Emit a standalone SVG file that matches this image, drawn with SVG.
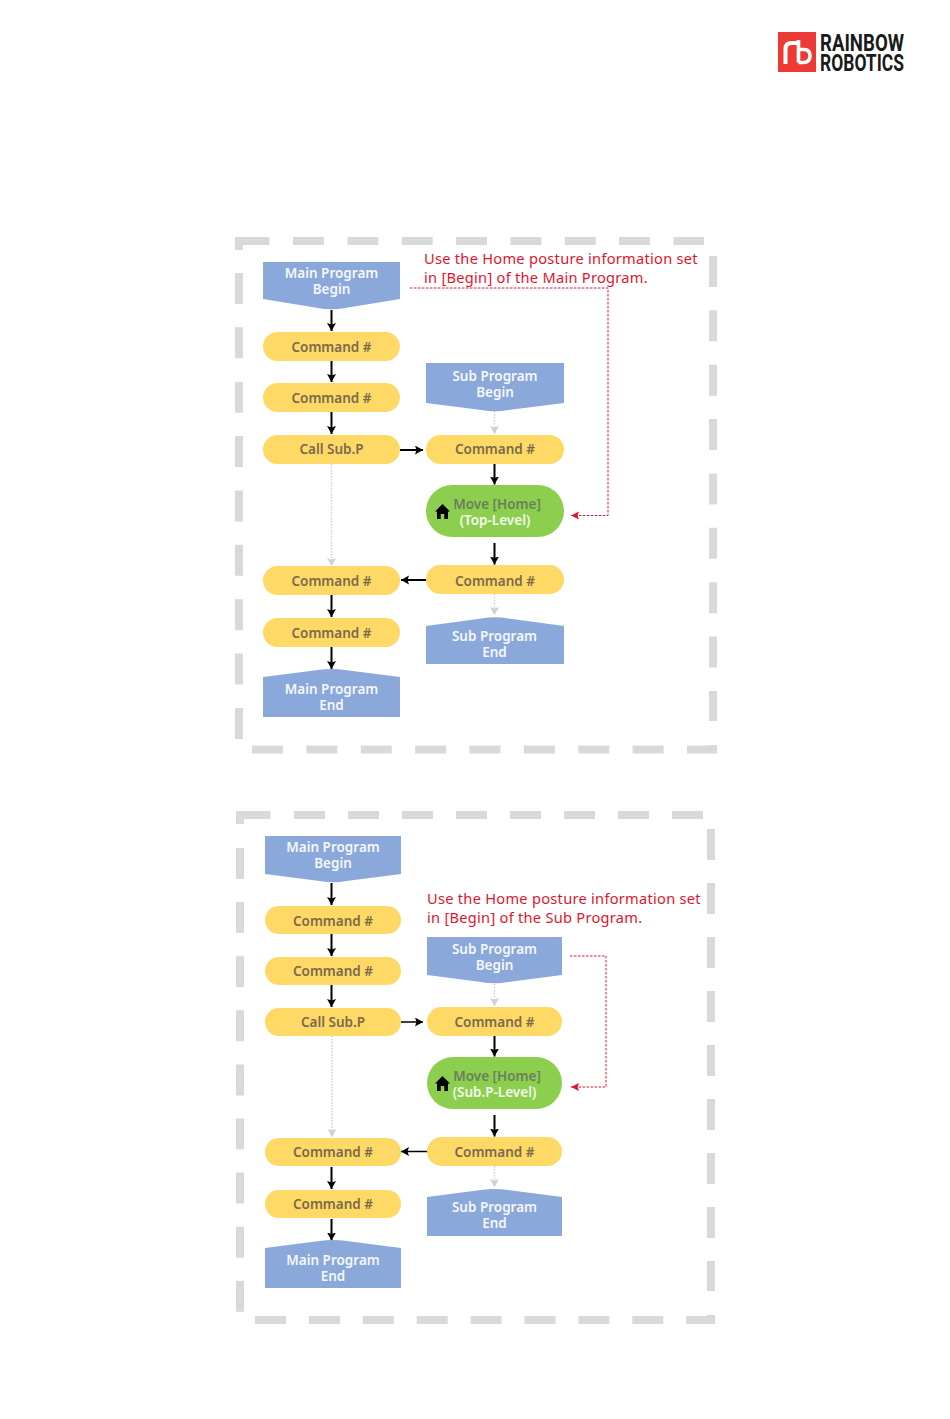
<svg xmlns="http://www.w3.org/2000/svg" width="950" height="1419" viewBox="0 0 950 1419">
<style>
text{font-family:"Noto Sans","Liberation Sans",sans-serif;font-size:13.5px;font-weight:600;text-anchor:middle}
.w{fill:#f4f7fc}
.c{fill:#7a6a4c}
.m{fill:#697f5c}
.v{fill:#f2f9ea}
.r{fill:#e2142d;font-weight:400;font-size:14.6px;text-anchor:start;letter-spacing:.28px}
.blue{fill:#8ba8da}
.yel{fill:#ffd966}
.grn{fill:#8ccf4f}
.fr{fill:none;stroke:#d9d9d9;stroke-width:8}
.d{stroke-dasharray:31 23.35}
.k{fill:none;stroke:#000;stroke-width:2;marker-end:url(#ak)}
.g{fill:none;stroke:#cfcfcf;stroke-width:1.5;stroke-dasharray:1.5 1.5;marker-end:url(#ag)}
.e{fill:none;stroke:#e2142d;stroke-width:1;stroke-dasharray:2.5 1.5}
.ea{marker-end:url(#ar)}
.l1{font-family:"Roboto","Liberation Sans",sans-serif;font-weight:700;font-size:24px;fill:#1a1a1a;text-anchor:start}
</style>
<defs>
<marker id="ak" markerUnits="userSpaceOnUse" markerWidth="10" markerHeight="10" refX="8" refY="4.5" orient="auto"><path d="M0 0L8 4.5L0 9L1.5 4.5Z" fill="#000"/></marker>
<marker id="ag" markerUnits="userSpaceOnUse" markerWidth="10" markerHeight="10" refX="8" refY="4.5" orient="auto"><path d="M0 0L8 4.5L0 9L1.5 4.5Z" fill="#cfcfcf"/></marker>
<marker id="ar" markerUnits="userSpaceOnUse" markerWidth="10" markerHeight="10" refX="8" refY="4" orient="auto"><path d="M0 0L8 4L0 8L1.5 4Z" fill="#e2142d"/></marker>
<path id="home" d="M7.500 0L15 7.500L13 7.500V15H9.300V10H5.700V15H2V7.500H0Z" fill="#000"/>
</defs>

<g id="logo">
<rect x="778" y="32" width="38" height="40" fill="#ee3a36"/>
<path d="M785.500 64V49Q785.500 43 791.500 43H798" fill="none" stroke="#fff" stroke-width="4"/>
<path d="M798.500 40V62.500M798.500 49.500H804Q810 49.500 810 55.800T804 62.500H798.500" fill="none" stroke="#fff" stroke-width="3.600"/>
<text class="l1"><tspan x="820" y="51" textLength="84" lengthAdjust="spacingAndGlyphs">RAINBOW</tspan><tspan x="820" y="71" textLength="84" lengthAdjust="spacingAndGlyphs">ROBOTICS</tspan></text>
</g>

<g id="frame-top">
<path class="fr" d="M239 250V241H269.500"/>
<path class="fr d" d="M293 241H704"/>
<path class="fr" style="stroke-dasharray:31 23.37" d="M239 273V739"/>
<path class="fr" style="stroke-dasharray:31 23.37" d="M252 749.500H687"/>
<path class="fr" d="M687 749.500H713V745"/>
<path class="fr" style="stroke-dasharray:31 23.37" d="M713 256V721"/>
</g>
<g id="frame-bottom">
<path class="fr" d="M240 824V815H270.500"/>
<path class="fr" style="stroke-dasharray:31 23" d="M294 815H703"/>
<path class="fr" style="stroke-dasharray:31 23.1" d="M240 848V1312"/>
<path class="fr" style="stroke-dasharray:31 22.9" d="M255 1320H686"/>
<path class="fr" d="M686 1320H711V1315"/>
<path class="fr" style="stroke-dasharray:31 23" d="M711 829V1291"/>
</g>

<g id="connectors">
<path class="k" d="M331.500 310V331"/><path class="k" d="M331.500 361V382"/><path class="k" d="M331.500 412V434"/>
<path class="k" d="M400 450H423"/><path class="g" d="M494.500 411V434"/><path class="k" d="M494.500 464V484.500"/>
<path class="k" d="M494.500 543V564.500"/><path class="k" d="M429 580H401"/><path class="g" d="M494.500 594V615"/>
<path class="g" d="M331.500 464V566"/><path class="k" d="M331.500 595V617"/><path class="k" d="M331.500 647V669"/>
<path class="e ea" d="M410 288H608V515.500H571"/>

<path class="k" d="M331.500 883V905"/><path class="k" d="M331.500 934V956"/><path class="k" d="M331.500 985V1007"/>
<path class="k" style="stroke-width:1.500" d="M401 1022H423"/><path class="g" d="M494.500 984V1006"/><path class="k" d="M494.500 1036V1056.500"/>
<path class="k" d="M494.500 1115V1136.500"/><path class="k" style="stroke-width:1.500" d="M428 1151.500H401"/><path class="g" d="M494.500 1166V1187"/>
<path class="g" d="M332 1036V1137"/><path class="k" d="M331.500 1167V1189"/><path class="k" d="M331.500 1219V1240.500"/>
<path class="e ea" d="M570 956H606V1087H571"/>
</g>

<g id="note-1"><text class="r" x="424" y="264">Use the Home posture information set</text><text class="r" x="424" y="283">in [Begin] of the Main Program.</text></g>
<g id="note-2"><text class="r" x="427" y="904">Use the Home posture information set</text><text class="r" x="427" y="923">in [Begin] of the Sub Program.</text></g>

<g id="main-begin-1"><path class="blue" d="M263 262H400V299L345 308Q331.500 310.500 318 308L263 299Z"/><text class="w" x="331.500" y="278">Main Program</text><text class="w" x="331.500" y="294">Begin</text></g>
<g id="cmd-1a"><rect class="yel" x="263" y="332" width="137" height="29" rx="14.500"/><text class="c" x="331.500" y="352">Command #</text></g>
<g id="cmd-1b"><rect class="yel" x="263" y="383" width="137" height="29" rx="14.500"/><text class="c" x="331.500" y="403">Command #</text></g>
<g id="call-1"><rect class="yel" x="263" y="435" width="137" height="29" rx="14.500"/><text class="c" x="331.500" y="454">Call Sub.P</text></g>
<g id="sub-begin-1"><path class="blue" d="M426 363H564V403L508.500 410Q495 412.500 481.500 410L426 403Z"/><text class="w" x="495" y="381">Sub Program</text><text class="w" x="495" y="397">Begin</text></g>
<g id="cmd-1c"><rect class="yel" x="426" y="435" width="138" height="29" rx="14.500"/><text class="c" x="495" y="454">Command #</text></g>
<g id="move-1"><rect class="grn" x="426" y="485" width="138" height="52" rx="26"/><use href="#home" x="435" y="504"/><text class="m" x="497" y="509">Move [Home]</text><text class="v" x="495" y="525">(Top-Level)</text></g>
<g id="cmd-1d"><rect class="yel" x="426" y="565" width="138" height="29" rx="14.500"/><text class="c" x="495" y="586">Command #</text></g>
<g id="sub-end-1"><path class="blue" d="M426 626L481.500 618.500Q495 616 508.500 618.500L564 626V664H426Z"/><text class="w" x="494.500" y="641">Sub Program</text><text class="w" x="494.500" y="657">End</text></g>
<g id="cmd-1e"><rect class="yel" x="263" y="566" width="137" height="29" rx="14.500"/><text class="c" x="331.500" y="586">Command #</text></g>
<g id="cmd-1f"><rect class="yel" x="263" y="618" width="137" height="29" rx="14.500"/><text class="c" x="331.500" y="638">Command #</text></g>
<g id="main-end-1"><path class="blue" d="M263 677L318 670Q331.500 668 345 670L400 677V717H263Z"/><text class="w" x="331.500" y="694">Main Program</text><text class="w" x="331.500" y="710">End</text></g>

<g id="main-begin-2"><path class="blue" d="M265 836H401V874L346.500 881Q333 883.500 319.500 881L265 874Z"/><text class="w" x="333" y="852">Main Program</text><text class="w" x="333" y="868">Begin</text></g>
<g id="cmd-2a"><rect class="yel" x="265" y="906" width="136" height="28" rx="14"/><text class="c" x="333" y="926">Command #</text></g>
<g id="cmd-2b"><rect class="yel" x="265" y="957" width="136" height="28" rx="14"/><text class="c" x="333" y="976">Command #</text></g>
<g id="call-2"><rect class="yel" x="265" y="1008" width="136" height="28" rx="14"/><text class="c" x="333" y="1027">Call Sub.P</text></g>
<g id="sub-begin-2"><path class="blue" d="M427 937H562V975L508 982Q494.500 984.500 481 982L427 975Z"/><text class="w" x="494.500" y="954">Sub Program</text><text class="w" x="494.500" y="970">Begin</text></g>
<g id="cmd-2c"><rect class="yel" x="427" y="1007" width="135" height="29" rx="14.500"/><text class="c" x="494.500" y="1027">Command #</text></g>
<g id="move-2"><rect class="grn" x="427" y="1057" width="135" height="52" rx="26"/><use href="#home" x="435" y="1076"/><text class="m" x="497" y="1081">Move [Home]</text><text class="v" x="494.500" y="1097">(Sub.P-Level)</text></g>
<g id="cmd-2d"><rect class="yel" x="427" y="1137" width="135" height="29" rx="14.500"/><text class="c" x="494.500" y="1157">Command #</text></g>
<g id="sub-end-2"><path class="blue" d="M427 1197L481 1190Q494.500 1188 508 1190L562 1197V1236H427Z"/><text class="w" x="494.500" y="1212">Sub Program</text><text class="w" x="494.500" y="1228">End</text></g>
<g id="cmd-2e"><rect class="yel" x="265" y="1138" width="136" height="28" rx="14"/><text class="c" x="333" y="1157">Command #</text></g>
<g id="cmd-2f"><rect class="yel" x="265" y="1190" width="136" height="28" rx="14"/><text class="c" x="333" y="1209">Command #</text></g>
<g id="main-end-2"><path class="blue" d="M265 1248L319.500 1241Q333 1239 346.500 1241L401 1248V1288H265Z"/><text class="w" x="333" y="1265">Main Program</text><text class="w" x="333" y="1281">End</text></g>
</svg>
